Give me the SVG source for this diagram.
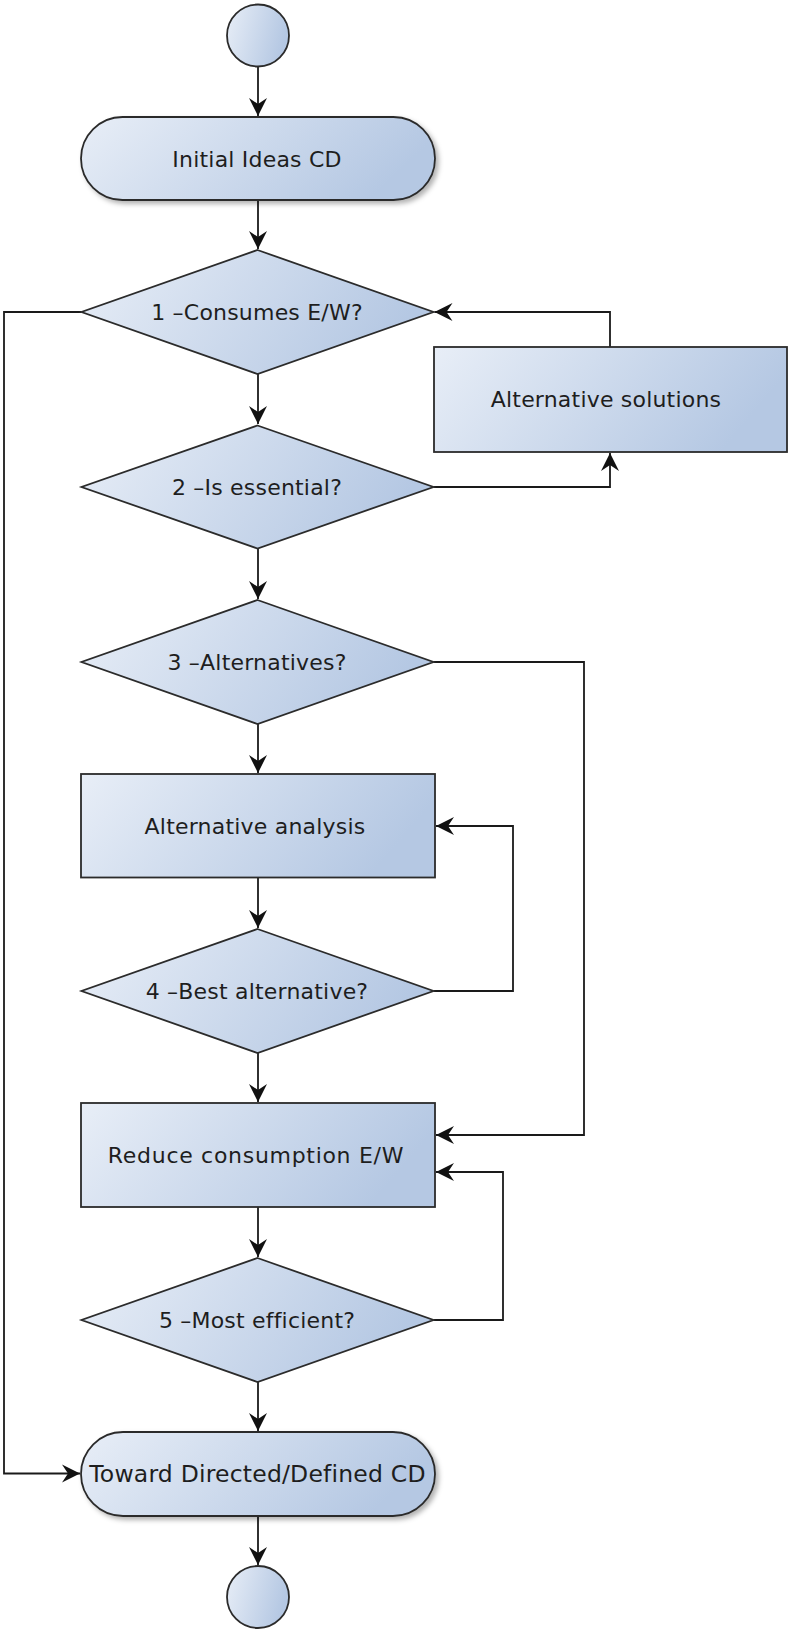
<svg xmlns="http://www.w3.org/2000/svg" width="788" height="1630" viewBox="0 0 788 1630">
<defs>
<linearGradient id="g" x1="0" y1="0" x2="1" y2="0.25">
<stop offset="0" stop-color="#e8eef7"/>
<stop offset="1" stop-color="#b5c8e3"/>
</linearGradient>
<filter id="sh" x="-10%" y="-20%" width="125%" height="150%">
<feDropShadow dx="3" dy="3" stdDeviation="2.5" flood-color="#000" flood-opacity="0.3"/>
</filter>
<marker id="ah" markerWidth="20" markerHeight="20" refX="18" refY="10" orient="auto" markerUnits="userSpaceOnUse">
<path d="M0,1 L18,10 L0,19 L6,10 Z" fill="#111"/>
</marker>
</defs>
<style>
.n{fill:url(#g);stroke:#2b2b2b;stroke-width:1.8}
.t{font-family:"DejaVu Sans","Liberation Sans",sans-serif;font-size:22px;fill:#1e1e1e;text-anchor:middle;letter-spacing:0.2px}
.c{fill:none;stroke:#1a1a1a;stroke-width:1.8;marker-end:url(#ah)}
</style>
<g id="connectors">
<path class="c" d="M258,67 L258,116"/>
<path class="c" d="M258,200 L258,249"/>
<path class="c" d="M258,374 L258,424"/>
<path class="c" d="M258,549 L258,599"/>
<path class="c" d="M258,724 L258,773"/>
<path class="c" d="M258,878 L258,928"/>
<path class="c" d="M258,1053 L258,1102"/>
<path class="c" d="M258,1207 L258,1257"/>
<path class="c" d="M258,1382 L258,1431"/>
<path class="c" d="M258,1516 L258,1565"/>
<path class="c" d="M81.5,312 L4,312 L4,1473.5 L80,1473.5"/>
<path class="c" d="M610,347 L610,312 L434.5,312"/>
<path class="c" d="M433.5,487 L610,487 L610,453"/>
<path class="c" d="M433.5,662 L584,662 L584,1135 L436,1135"/>
<path class="c" d="M433.5,991 L513,991 L513,826 L436,826"/>
<path class="c" d="M433.5,1320 L503,1320 L503,1172 L436,1172"/>
</g>
<g id="start"><circle class="n" cx="258" cy="35.5" r="31"/></g>
<g id="initial">
<rect class="n" x="81" y="117" width="354" height="83" rx="41.5" filter="url(#sh)"/>
<text class="t" x="257" y="166.5">Initial Ideas CD</text>
</g>
<g id="d1">
<polygon class="n" points="257.5,250 433.5,312 257.5,374 81.5,312"/>
<text class="t" x="257" y="320">1 –Consumes E/W?</text>
</g>
<g id="altsolutions">
<rect class="n" x="434" y="347" width="353" height="105"/>
<text class="t" x="606" y="407">Alternative solutions</text>
</g>
<g id="d2">
<polygon class="n" points="257.5,425.5 433.5,487 257.5,548.5 81.5,487"/>
<text class="t" x="257" y="495">2 –Is essential?</text>
</g>
<g id="d3">
<polygon class="n" points="257.5,600 433.5,662 257.5,724 81.5,662"/>
<text class="t" x="257" y="670">3 –Alternatives?</text>
</g>
<g id="altanalysis">
<rect class="n" x="81" y="774" width="354" height="103.5"/>
<text class="t" x="255" y="834">Alternative analysis</text>
</g>
<g id="d4">
<polygon class="n" points="257.5,929 433.5,991 257.5,1053 81.5,991"/>
<text class="t" x="257" y="999">4 –Best alternative?</text>
</g>
<g id="reduce">
<rect class="n" x="81" y="1103" width="354" height="104"/>
<text class="t" x="256" y="1163" style="letter-spacing:0.7px">Reduce consumption E/W</text>
</g>
<g id="d5">
<polygon class="n" points="257.5,1258 433.5,1320 257.5,1382 81.5,1320"/>
<text class="t" x="257" y="1328">5 –Most efficient?</text>
</g>
<g id="toward">
<rect class="n" x="81" y="1432" width="354" height="84" rx="42" filter="url(#sh)"/>
<text class="t" x="257.5" y="1482" style="font-size:23.5px">Toward Directed/Defined CD</text>
</g>
<g id="end"><circle class="n" cx="258" cy="1597" r="31"/></g>
</svg>
